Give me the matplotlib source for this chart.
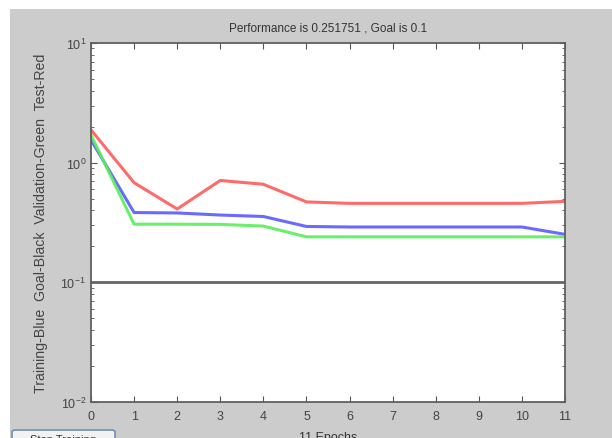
import numpy as np
import matplotlib
matplotlib.use('Agg')
import matplotlib.pyplot as plt
from matplotlib.patches import Rectangle, FancyBboxPatch
from matplotlib.ticker import LogLocator, NullFormatter

epochs = list(range(12))
train = [1.55, 0.383, 0.38, 0.365, 0.355, 0.293, 0.29, 0.29, 0.29, 0.29, 0.29, 0.2518]
valid = [1.70, 0.306, 0.306, 0.305, 0.295, 0.24, 0.24, 0.24, 0.24, 0.24, 0.24, 0.24]
test = [1.88, 0.68, 0.41, 0.71, 0.66, 0.47, 0.457, 0.457, 0.457, 0.457, 0.457, 0.475]
goal = 0.1
perf = 0.251751

plt.rcParams['font.family'] = ['Liberation Sans', 'DejaVu Sans']

W, H = 612, 439
fig = plt.figure(figsize=(W / 100, H / 100), dpi=100)
fig.patch.set_facecolor('white')
# grey window area (white strip at top and left)
fig.patches.append(Rectangle((10 / W, 0), 1, 1 - 10 / H, transform=fig.transFigure,
                             facecolor='#cccccc', edgecolor='none', zorder=-10))

ax = fig.add_axes([91 / W, 1 - 403 / H, (565 - 91) / W, (403 - 44) / H])
ax.set_facecolor('white')
ax.plot(epochs, train, color='#5a5aff', lw=2.2, alpha=0.9)
ax.plot(epochs, valid, color='#5aee5a', lw=2.2, alpha=0.9)
ax.plot(epochs, test, color='#ff5a5a', lw=2.2, alpha=0.9)
ax.axhline(goal, color='#666666', lw=2)

ax.set_yscale('log')
ax.set_ylim(1e-2, 1e1)
ax.set_xlim(0, 11)
ax.set_xticks(epochs)
ax.yaxis.set_major_locator(LogLocator(base=10, numticks=10))
ax.yaxis.set_minor_locator(LogLocator(base=10, subs=np.arange(2, 10), numticks=10))
ax.yaxis.set_minor_formatter(NullFormatter())
ax.tick_params(which='both', direction='in', top=True, right=True, colors='#555555',
               labelsize=9, labelcolor='#444444')
ax.tick_params(axis='x', pad=6)
ax.tick_params(which='major', length=4)
ax.tick_params(which='minor', length=2)
for s in ax.spines.values():
    s.set_color('#606060')
    s.set_linewidth(1.3)

ax.set_title('Performance is %g , Goal is %g' % (perf, goal), fontsize=8.5, color='#333333', pad=9)
ax.set_ylabel('Training-Blue  Goal-Black  Validation-Green  Test-Red', fontsize=10.2, color='#444444', labelpad=9)
ax.set_xlabel('%d Epochs' % (len(epochs) - 1), fontsize=9, color='#333333', labelpad=6)

# Stop Training button, cut off by the bottom edge
fig.patches.append(FancyBboxPatch((12 / W, -10 / H), 103 / W, 18 / H, transform=fig.transFigure,
                                  boxstyle='round,pad=0,rounding_size=0.005',
                                  facecolor='#f2f2f2', edgecolor='#7090b0', lw=1.2))
fig.text(63 / W, -1 / H, 'Stop Training', fontsize=8, ha='center', va='center', color='#333333')

fig.savefig('out.png', dpi=100)
